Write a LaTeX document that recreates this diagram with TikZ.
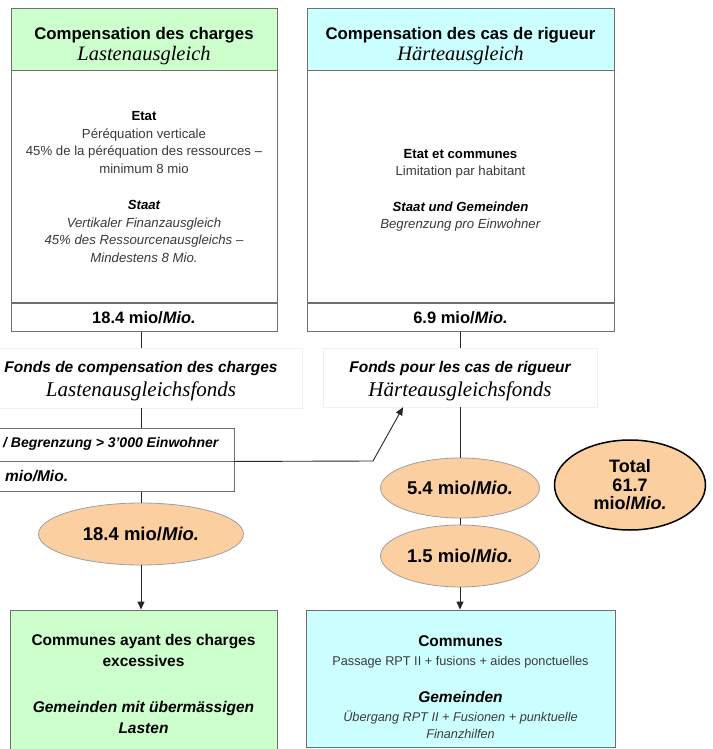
\documentclass[tikz,border=0pt]{standalone}
\usepackage{fontspec}
\setmainfont{Liberation Sans}
\newfontfamily\timesfont{Liberation Serif}
\usepackage{tikz}
\usetikzlibrary{arrows.meta,positioning,shapes.geometric}
\definecolor{greenbg}{HTML}{CCFFCC}
\definecolor{cyanbg}{HTML}{CCFFFF}
\definecolor{peach}{HTML}{FBCFA0}
\definecolor{edge}{HTML}{6F6F6F}
\definecolor{txtgray}{HTML}{3A3A3A}
\tikzset{
  ar/.style={-{Triangle[length=8pt,width=7pt]},line width=0.9pt,black!85},
  ln/.style={line width=0.9pt,black!85},
  box/.style={draw=edge,line width=0.9pt,inner sep=0pt,align=center},
  fbox/.style={draw=gray!12,fill=white,inner sep=0pt,align=center,font=\fontsize{15.5}{24}\selectfont},
  oval/.style={ellipse,draw=gray!75,fill=peach,line width=0.8pt,inner sep=0pt,align=center,font=\bfseries\fontsize{18.5}{18.5}\selectfont},
  body/.style={font=\fontsize{13.2}{17.5}\selectfont,text=txtgray}
}
\newcommand{\colhead}[2]{\rule{0pt}{26pt}{\bfseries #1}\\{\timesfont\itshape\fontsize{20.5}{20}\selectfont #2}}
\newcommand{\fondshead}[2]{\rule{0pt}{18pt}{\bfseries\itshape #1}\\{\timesfont\itshape\fontsize{21}{24}\selectfont #2}}
\newcommand{\blk}[1]{{\color{black}\bfseries #1}}

\begin{document}
\begin{tikzpicture}[x=1pt,y=-1pt]
\useasboundingbox (0,0) rectangle (712,749);
% Lastenausgleich
\node[box,fill=greenbg,minimum width=266pt,minimum height=62pt,font=\fontsize{16.8}{20.5}\selectfont] (lhead) at (144,39) {\colhead{Compensation des charges}{Lastenausgleich}};
\node[box,body,fill=white,minimum width=266pt,minimum height=232pt,below=0pt of lhead] (lbody) {\blk{Etat}\\P\'er\'equation verticale\\45\% de la p\'er\'equation des ressources --\\minimum 8 mio\\[19pt]
  \blk{\itshape Staat}\\\textit{Vertikaler Finanzausgleich}\\\textit{45\% des Ressourcenausgleichs --}\\\textit{Mindestens 8 Mio.}};
\node[box,fill=white,minimum width=266pt,minimum height=28pt,below=0pt of lbody,font=\bfseries\fontsize{16.5}{18}\selectfont] (lamt) {18.4 mio/\textit{Mio.}};
% Haerteausgleich
\node[box,fill=cyanbg,minimum width=307pt,minimum height=62pt,font=\fontsize{16.8}{20.5}\selectfont] (rhead) at (460.5,39) {\colhead{Compensation des cas de rigueur}{H\"arteausgleich}};
\node[box,body,fill=white,minimum width=307pt,minimum height=232pt,below=0pt of rhead] (rbody) {\rule{0pt}{16pt}\blk{Etat et communes}\\Limitation par habitant\\[18pt]
  \blk{\itshape Staat und Gemeinden}\\\textit{Begrenzung pro Einwohner}};
\node[box,fill=white,minimum width=307pt,minimum height=28pt,below=0pt of rbody,font=\bfseries\fontsize{16.5}{18}\selectfont] (ramt) {6.9 mio/\textit{Mio.}};
% fonds
\node[fbox,minimum width=322pt,minimum height=60pt] (lfonds) at (141,378) {\fondshead{Fonds de compensation des charges}{Lastenausgleichsfonds}};
\node[fbox,minimum width=274pt,minimum height=59pt] (rfonds) at (460,377.5) {\fondshead{Fonds pour les cas de rigueur}{H\"arteausgleichsfonds}};
% limitation table
\node[box,fill=white,minimum width=434pt,minimum height=33pt] (trow1) at (17,444.5) {};
\node[box,fill=white,minimum width=434pt,minimum height=30pt,below=0pt of trow1] (trow2) {};
\node[anchor=west,inner sep=0pt,font=\bfseries\itshape\fontsize{14}{16}\selectfont] (tlim) at (3,444) {/ Begrenzung > 3'000 Einwohner};
\node[anchor=west,inner sep=0pt,font=\bfseries\itshape\fontsize{15.5}{17}\selectfont] (tmio) at (5,476) {mio/Mio.};
\coordinate (bend) at (373,461);
% amounts
\node[oval,minimum width=205pt,minimum height=62pt] (loval) at (141,534) {18.4 mio/\textit{Mio.}};
\node[oval,minimum width=159pt,minimum height=60pt] (roval1) at (460,488) {5.4 mio/\textit{Mio.}};
\node[oval,minimum width=159pt,minimum height=62pt] (roval2) at (460,556) {1.5 mio/\textit{Mio.}};
\node[oval,draw=black,line width=1.5pt,minimum width=151pt,minimum height=90pt,font=\bfseries\fontsize{18}{18.5}\selectfont] (total) at (630,485) {Total\\61.7\\mio/\textit{Mio.}};
% communes
\node[box,fill=greenbg,minimum width=267pt,minimum height=148pt,font=\bfseries\fontsize{15.5}{21}\selectfont] (lbot) at (143.5,684) {Communes ayant des charges\\excessives\\[25pt]\textit{Gemeinden mit \"ubermässigen}\\\textit{Lasten}};
\node[box,fill=cyanbg,minimum width=309pt,minimum height=137pt] (rbot) at (460.5,678.5) {};
\node[body,align=center,inner sep=0pt,font=\fontsize{12.7}{19}\selectfont] (rbottxt) at (460.5,687) {\blk{\fontsize{15.5}{19}\selectfont Communes}\\Passage RPT II + fusions + aides ponctuelles\\[18pt]
  \blk{\itshape\fontsize{15.5}{19}\selectfont Gemeinden}\\\textit{\"Ubergang RPT II + Fusionen + punktuelle}\\[-2pt]\textit{Finanzhilfen}};
% flows
\draw[ln] (lamt.south -| lfonds.north) -- (lfonds.north);
\draw[ln] (lfonds.south) -- (lfonds.south |- trow1.north);
\draw[ln] (loval.north |- trow2.south) -- (loval.north);
\draw[ar] (loval.south) -- (loval.south |- lbot.north);
\draw[ar] (trow1.south east) -- (bend) -- ([xshift=-57pt]rfonds.south);
\draw[ln] (ramt.south -| rfonds.north) -- (rfonds.north);
\draw[ln] (rfonds.south) -- (roval1.north);
\draw[ln] (roval1.south) -- (roval2.north);
\draw[ar] (roval2.south) -- (roval2.south |- rbot.north);
\end{tikzpicture}
\end{document}
